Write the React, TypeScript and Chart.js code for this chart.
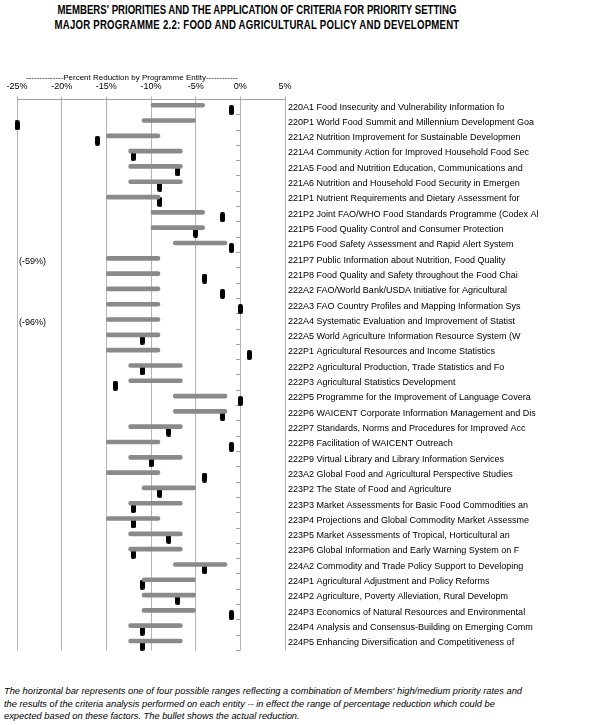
import React, { useEffect, useRef } from "react";
import { Chart, registerables } from "chart.js";

Chart.register(...registerables);

const CATEGORIES: string[] = [
  "220A1 Food Insecurity and Vulnerability Information fo",
  "220P1 World Food Summit and Millennium Development Goa",
  "221A2 Nutrition Improvement for Sustainable Developmen",
  "221A4 Community Action for Improved Household Food Sec",
  "221A5 Food and Nutrition Education, Communications and",
  "221A6 Nutrition and Household Food Security in Emergen",
  "221P1 Nutrient Requirements and Dietary Assessment for",
  "221P2 Joint FAO/WHO Food Standards Programme (Codex Al",
  "221P5 Food Quality Control and Consumer Protection",
  "221P6 Food Safety Assessment and Rapid Alert System",
  "221P7 Public Information about Nutrition, Food Quality",
  "221P8 Food Quality and Safety throughout the Food Chai",
  "222A2 FAO/World Bank/USDA Initiative for Agricultural",
  "222A3 FAO Country Profiles and Mapping Information Sys",
  "222A4 Systematic Evaluation and Improvement of Statist",
  "222A5 World Agriculture Information Resource System (W",
  "222P1 Agricultural Resources and Income Statistics",
  "222P2 Agricultural Production, Trade Statistics and Fo",
  "222P3 Agricultural Statistics Development",
  "222P5 Programme for the Improvement of Language Covera",
  "222P6 WAICENT Corporate Information Management and Dis",
  "222P7 Standards, Norms and Procedures for Improved Acc",
  "222P8 Facilitation of WAICENT Outreach",
  "222P9 Virtual Library and Library Information Services",
  "223A2 Global Food and Agricultural Perspective Studies",
  "223P2 The State of Food and Agriculture",
  "223P3 Market Assessments for Basic Food Commodities an",
  "223P4 Projections and Global Commodity Market Assessme",
  "223P5 Market Assessments of Tropical, Horticultural an",
  "223P6 Global Information and Early Warning System on F",
  "224A2 Commodity and Trade Policy Support to Developing",
  "224P1 Agricultural Adjustment and Policy Reforms",
  "224P2 Agriculture, Poverty Alleviation, Rural Developm",
  "224P3 Economics of Natural Resources and Environmental",
  "224P4 Analysis and Consensus-Building on Emerging Comm",
  "224P5 Enhancing Diversification and Competitiveness of",
];

// Expected range (low / high end of the horizontal bar), percent
const RANGE_LOW: number[] = [
  -10, -11, -15, -12.5, -12.5, -12.5, -15, -10, -10, -7.5, -15, -15,
  -15, -15, -15, -15, -15, -12.5, -12.5, -7.5, -7.5, -12.5, -15, -12.5,
  -15, -11, -12.5, -15, -12.5, -12.5, -7.5, -11, -11, -11, -12.5, -12.5,
];
const RANGE_HIGH: number[] = [
  -4, -5, -9, -6.5, -6.5, -6.5, -9, -4, -4, -1.5, -9, -9,
  -9, -9, -9, -9, -9, -6.5, -6.5, -1.5, -1.5, -6.5, -9, -6.5,
  -9, -5, -6.5, -9, -6.5, -6.5, -1.5, -5, -5, -5, -6.5, -6.5,
];
// Actual reduction (bullet), percent
const ACTUAL: number[] = [
  -1, -25, -16, -12, -7, -9, -9, -2, -5, -1, -59, -4,
  -2, 0, -96, -11, 1, -11, -14, 0, -2, -8, -1, -10,
  -4, -9, -12, -12, -8, -12, -4, -11, -7, -1, -11, -11,
];

const X_MIN = -25;
const X_MAX = 5;
const X_STEP = 5;

const TITLE_LINES = [
  "MEMBERS' PRIORITIES AND THE APPLICATION OF CRITERIA FOR PRIORITY SETTING",
  "MAJOR PROGRAMME 2.2: FOOD AND AGRICULTURAL POLICY AND DEVELOPMENT",
];
const AXIS_TITLE = "--------------Percent Reduction by Programme Entity------------";
const FOOTNOTE_LINES = [
  "The horizontal bar represents one of four possible ranges reflecting a combination of Members' high/medium priority rates and",
  "the results of the criteria analysis performed on each entity -- in effect the range of percentage reduction which could be",
  "expected based on these factors. The bullet shows the actual reduction.",
];

const FONT = "'Liberation Sans', Arial, sans-serif";

function makeBullet(): HTMLCanvasElement {
  const c = document.createElement("canvas");
  c.width = 5;
  c.height = 10;
  const g = c.getContext("2d")!;
  g.fillStyle = "#000";
  g.beginPath();
  const r = 2;
  g.moveTo(r, 0);
  g.lineTo(5 - r, 0);
  g.quadraticCurveTo(5, 0, 5, r);
  g.lineTo(5, 10 - r);
  g.quadraticCurveTo(5, 10, 5 - r, 10);
  g.lineTo(r, 10);
  g.quadraticCurveTo(0, 10, 0, 10 - r);
  g.lineTo(0, r);
  g.quadraticCurveTo(0, 0, r, 0);
  g.fill();
  return c;
}

export default function App() {
  const ref = useRef<HTMLCanvasElement | null>(null);

  useEffect(() => {
    if (!ref.current) return;
    const bullet = makeBullet();
    const n = CATEGORIES.length;

    const bulletPoints: { x: number; y: number }[] = [];
    ACTUAL.forEach((v, i) => {
      if (v >= X_MIN) bulletPoints.push({ x: v, y: i + 0.2 });
    });

    const offChartNotes = {
      id: "offChartNotes",
      afterDatasetsDraw(chart: any) {
        const xs = chart.scales.x;
        const ys = chart.scales.y2;
        const ctx = chart.ctx;
        ctx.save();
        ctx.font = "9px " + FONT;
        ctx.fillStyle = "#000";
        ctx.textAlign = "left";
        ctx.textBaseline = "middle";
        ACTUAL.forEach((v, i) => {
          if (v < X_MIN) {
            ctx.fillText("(" + v + "%)", xs.getPixelForValue(X_MIN) + 2, ys.getPixelForValue(i + 0.1));
          }
        });
        ctx.restore();
      },
    };

    const chart = new Chart(ref.current, {
      type: "bar",
      data: {
        labels: CATEGORIES,
        datasets: [
          {
            type: "bar",
            label: "Expected range",
            indexAxis: "y",
            xAxisID: "x",
            yAxisID: "y2",
            data: RANGE_LOW.map((lo, i) => ({ x: [lo, RANGE_HIGH[i]], y: i - 0.12 })) as any,
            backgroundColor: "#8a8a8a",
            barThickness: 4,
            borderRadius: 2,
            borderSkipped: false,
          } as any,
          {
            type: "scatter",
            label: "Actual reduction",
            xAxisID: "x",
            yAxisID: "y2",
            data: bulletPoints as any,
            pointStyle: bullet,
            pointRadius: 5,
            clip: false,
          } as any,
        ],
      },
      options: {
        animation: false,
        responsive: false,
        maintainAspectRatio: false,
        layout: { padding: { left: 17, right: 0, top: 13, bottom: 9.5 } },
        plugins: {
          legend: { display: false },
          tooltip: { enabled: false },
          title: { display: false },
        },
        scales: {
          x: {
            type: "linear",
            axis: "x",
            position: "top",
            offset: false,
            min: X_MIN,
            max: X_MAX,
            ticks: {
              stepSize: X_STEP,
              callback: (v: any) => v + "%",
              color: "#000",
              font: { family: FONT, size: 9 },
              padding: 4,
              maxRotation: 0,
            },
            grid: { offset: false, color: "#b4b4b4", lineWidth: 1, tickLength: 3, tickColor: "#b4b4b4" },
            border: { display: true, color: "#a0a0a0" },
            title: {
              display: true,
              text: "    " + AXIS_TITLE,
              align: "start",
              color: "#000",
              font: { family: FONT, size: 8 },
              padding: { top: 0, bottom: -5 },
            },
          },
          y: {
            type: "category",
            axis: "y",
            position: "right",
            offset: true,
            labels: CATEGORIES,
            min: 0,
            max: n - 1,
            grid: { display: false, drawTicks: false, tickLength: 0 },
            border: { display: false },
            ticks: {
              color: "#000",
              font: { family: FONT, size: 9 },
              padding: 3,
              autoSkip: false,
            },
            afterFit: (s: any) => {
              s.width = 319;
            },
          },
          yTicks: {
            type: "category",
            axis: "y",
            position: { x: 0 },
            offset: true,
            labels: CATEGORIES,
            min: 0,
            max: n - 1,
            grid: {
              offset: true,
              drawOnChartArea: false,
              drawTicks: true,
              tickLength: 4,
              tickColor: "#a0a0a0",
            },
            border: { display: false },
            ticks: { display: false, autoSkip: false },
          },
          y2: {
            type: "linear",
            axis: "y",
            display: false,
            offset: false,
            reverse: true,
            beginAtZero: false,
            min: -0.5,
            max: n - 0.5,
          },
        } as any,
      },
      plugins: [offChartNotes],
    });
    return () => chart.destroy();
  }, []);

  return (
    <div style={{ position: "absolute", left: 0, top: 0, width: 604, height: 725, fontFamily: FONT, background: "#fff" }}>
      <div
        style={{
          position: "absolute",
          left: 0,
          top: 3,
          width: 514,
          textAlign: "center",
          fontWeight: "bold",
          fontSize: 12,
          lineHeight: "15px",
          color: "#000",
          whiteSpace: "nowrap",
          transform: "scaleX(0.8)",
          transformOrigin: "257px 0px",
        }}
      >
        {TITLE_LINES.map((t, i) => (
          <div key={i} style={{ letterSpacing: i === 1 ? "0.3px" : "0px" }}>
            {t}
          </div>
        ))}
      </div>
      <canvas ref={ref} width={604} height={600} style={{ position: "absolute", left: 0, top: 60, width: 604, height: 600 }} />
      <div
        style={{
          position: "absolute",
          left: 4,
          top: 685,
          fontStyle: "italic",
          fontSize: 9.3,
          lineHeight: "12.5px",
          color: "#000",
          whiteSpace: "nowrap",
        }}
      >
        {FOOTNOTE_LINES.map((t, i) => (
          <div key={i}>{t}</div>
        ))}
      </div>
    </div>
  );
}
